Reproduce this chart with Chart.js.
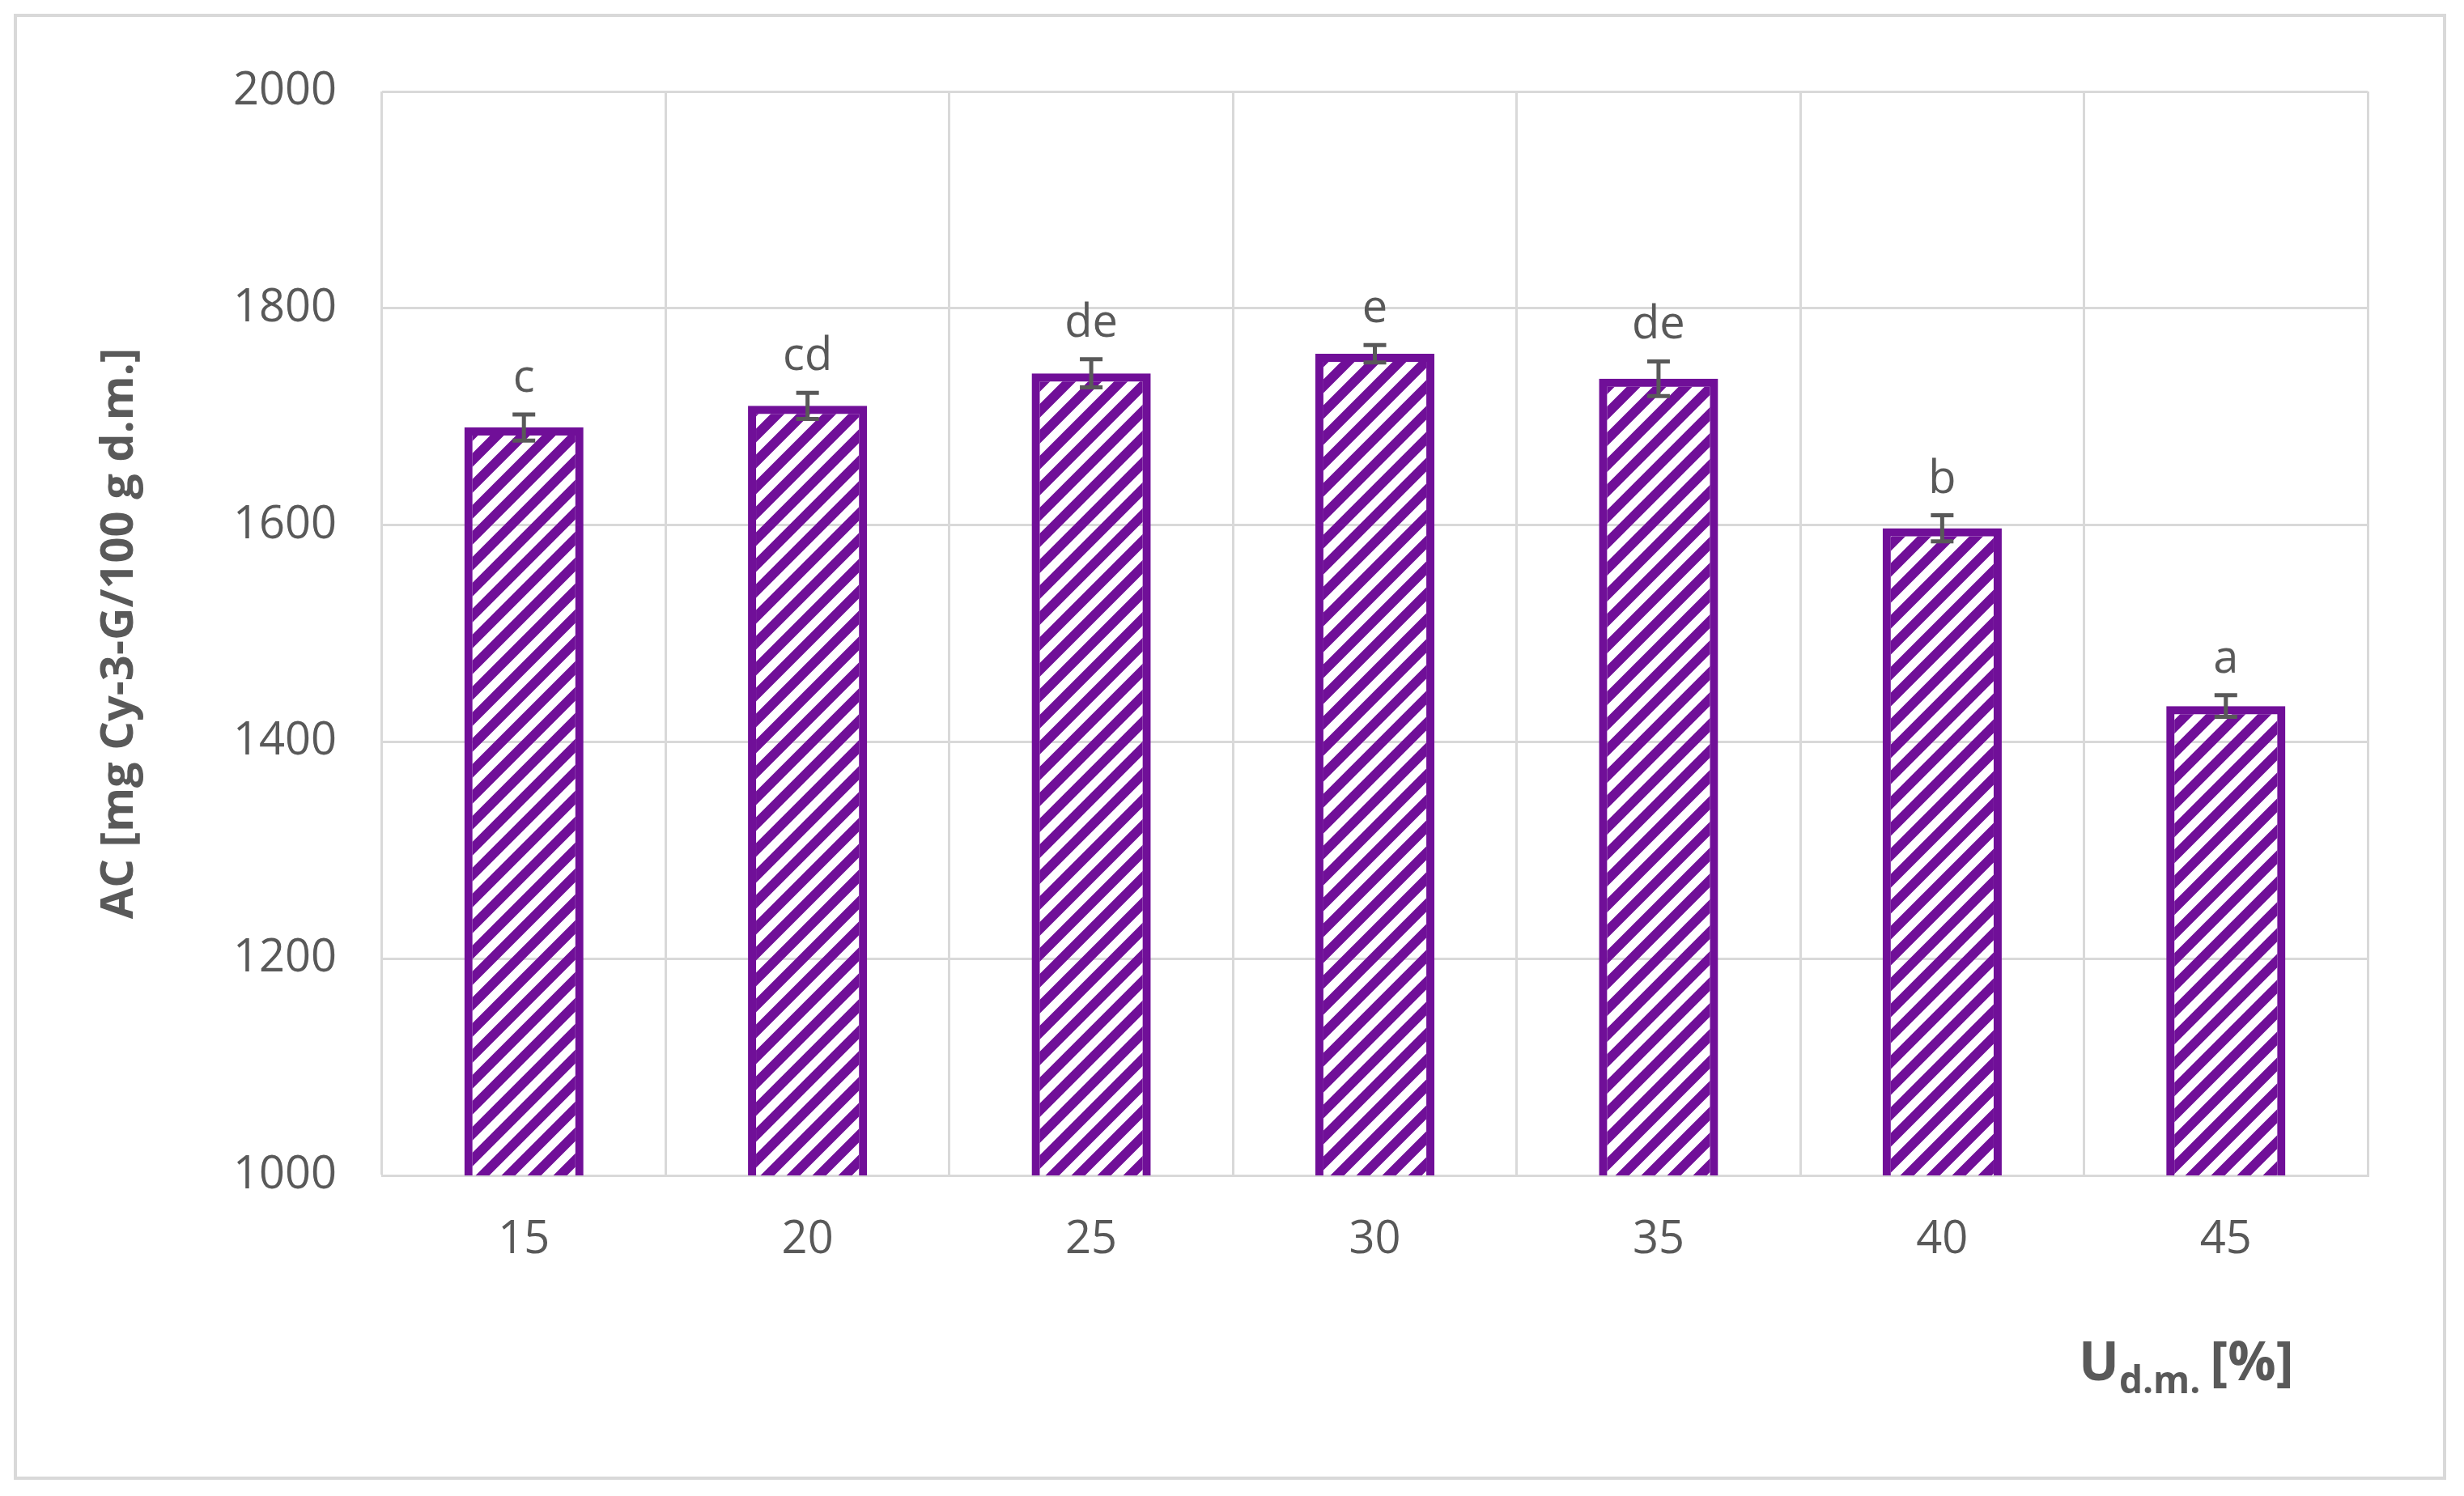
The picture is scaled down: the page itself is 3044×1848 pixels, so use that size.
<!DOCTYPE html>
<html lang="en">
<head>
<meta charset="UTF-8">
<title>AC</title>
<style>
  body{ margin:0; background:#fff; }
</style>
</head>
<body>
<canvas id="myChart" width="3044" height="1848" style="width:3044px;height:1848px"></canvas>
<script src="https://cdn.jsdelivr.net/npm/chart.js"></script>
<script>
const categories = ['15', '20', '25', '30', '35', '40', '45']
const values = [1690, 1710, 1740, 1758, 1735, 1597, 1433]
const errors = [12, 12, 13, 8, 16, 12, 10]
const letters = ['c', 'cd', 'de', 'e', 'de', 'b', 'a']
const yTicks = [1000, 1200, 1400, 1600, 1800, 2000]

const purple = '#700f98'
const grey = '#595959'
const font = '"Open Sans", "Liberation Sans", sans-serif'

// diagonal hatch
function hatch(){
    const c = document.createElement('canvas')
    c.width = 32; c.height = 32
    const g = c.getContext('2d')
    g.strokeStyle = purple
    g.lineWidth = 12
    g.beginPath()
    for (let k = -1; k <= 1; k++) {
        g.moveTo(k * 32 - 5, 37)
        g.lineTo(k * 32 + 37, -5)
    }
    g.stroke()
    return g.createPattern(c, 'repeat')
}

const extras = {
    id: 'extras',
    beforeDraw(chart){
        const ctx = chart.ctx
        ctx.save()
        ctx.fillStyle = '#fff'
        ctx.fillRect(0, 0, chart.width, chart.height)
        ctx.strokeStyle = '#d9d9d9'
        ctx.lineWidth = 4
        ctx.strokeRect(19, 19, 3001, 1807)
        ctx.restore()
    },
    afterDatasetsDraw(chart){
        const ctx = chart.ctx
        const y = chart.scales.y
        const meta = chart.getDatasetMeta(0)
        ctx.save()
        ctx.strokeStyle = grey
        ctx.lineWidth = 5
        meta.data.forEach((bar, i) => {
            const top = y.getPixelForValue(values[i] + errors[i])
            const bot = y.getPixelForValue(values[i] - errors[i])
            ctx.beginPath()
            ctx.moveTo(bar.x, top); ctx.lineTo(bar.x, bot)
            ctx.moveTo(bar.x - 14, top); ctx.lineTo(bar.x + 14, top)
            ctx.moveTo(bar.x - 14, bot); ctx.lineTo(bar.x + 14, bot)
            ctx.stroke()
            ctx.fillStyle = grey
            ctx.font = '56px ' + font
            ctx.textAlign = 'center'
            ctx.textBaseline = 'bottom'
            ctx.fillText(letters[i], bar.x, top - 16)
        })
        // y title
        ctx.translate(148, chart.chartArea.top + (chart.chartArea.bottom - chart.chartArea.top) / 2)
        ctx.rotate(-Math.PI / 2)
        ctx.font = 'bold 56px ' + font
        ctx.textAlign = 'center'
        ctx.textBaseline = 'middle'
        ctx.fillText('AC [mg Cy-3-G/100 g d.m.]', 0, 0)
        ctx.restore()
        // x title with subscript
        ctx.save()
        ctx.fillStyle = grey
        ctx.textBaseline = 'alphabetic'
        let x = 2568
        const base = 1705
        ctx.font = 'bold 66px ' + font
        ctx.fillText('U', x, base); x += ctx.measureText('U').width
        ctx.font = 'bold 46px ' + font
        ctx.fillText('d.m.', x, base + 16); x += ctx.measureText('d.m. ').width
        ctx.font = 'bold 66px ' + font
        ctx.fillText('[%]', x, base)
        ctx.restore()
    }
}

const grafico = new Chart(document.querySelector('#myChart'), {
    type: 'bar',
    data: {
        labels: categories,
        datasets: [{
            data: values,
            backgroundColor: hatch(),
            borderColor: purple,
            borderWidth: 10,
            borderSkipped: 'bottom',
            categoryPercentage: 1,
            barPercentage: 0.42
        }]
    },
    options: {
        responsive: false,
        animation: false,
        devicePixelRatio: 1,
        layout: { padding: { top: 113, right: 119, left: 0, bottom: 0 } },
        plugins: { legend: { display: false }, tooltip: { enabled: false } },
        scales: {
            x: {
                afterFit: s => { s.height = 396 },
                grid: { color: '#d9d9d9', lineWidth: 3, offset: true, drawTicks: false },
                border: { color: '#d9d9d9', width: 3 },
                ticks: { color: grey, font: { size: 56, family: font }, padding: 46 }
            },
            y: {
                min: 1000, max: 2000,
                afterFit: s => { s.width = 472 },
                afterBuildTicks: s => { s.ticks = yTicks.map(v => ({ value: v })) },
                grid: { color: '#d9d9d9', lineWidth: 3, drawTicks: false },
                border: { display: false },
                ticks: { color: grey, font: { size: 56, family: font }, padding: 56, callback: v => String(v) }
            }
        }
    },
    plugins: [extras]
})
</script>
</body>
</html>
